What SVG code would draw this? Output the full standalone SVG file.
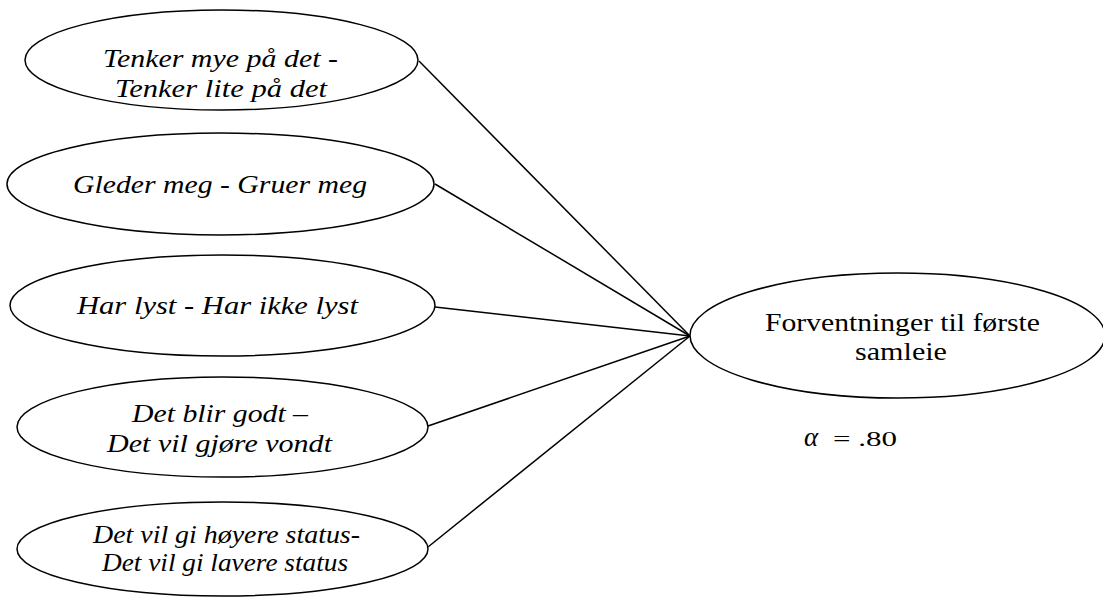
<svg xmlns="http://www.w3.org/2000/svg" width="1103" height="597" viewBox="0 0 1103 597" font-family="'Liberation Serif', 'Times New Roman', serif">
<style>
.node ellipse{fill:#fff;stroke:#000;stroke-width:1.5}
.conn line{stroke:#000;stroke-width:1.5}
text{font-size:26px;fill:#000}
.it{font-style:italic}
</style>
<rect width="1103" height="597" fill="#fff"/>
<g id="connectors" class="conn">
<line x1="419" y1="61" x2="690" y2="336"/>
<line x1="435" y1="184" x2="690" y2="336"/>
<line x1="435" y1="307" x2="690" y2="336"/>
<line x1="428" y1="426" x2="690" y2="336"/>
<line x1="428" y1="547" x2="690" y2="336"/>
</g>
<g id="n1" class="node">
<ellipse cx="221.5" cy="60" rx="196.5" ry="50"/>
<text class="it" x="103" y="67" textLength="235" lengthAdjust="spacingAndGlyphs">Tenker mye på det -</text>
<text class="it" x="115" y="97" textLength="212" lengthAdjust="spacingAndGlyphs">Tenker lite på det</text>
</g>
<g id="n2" class="node">
<ellipse cx="220.5" cy="184" rx="213.5" ry="51"/>
<text class="it" x="73" y="193" textLength="294" lengthAdjust="spacingAndGlyphs">Gleder meg - Gruer meg</text>
</g>
<g id="n3" class="node">
<ellipse cx="222.5" cy="305.5" rx="212.5" ry="50.5"/>
<text class="it" x="77" y="314" textLength="281" lengthAdjust="spacingAndGlyphs">Har lyst - Har ikke lyst</text>
</g>
<g id="n4" class="node">
<ellipse cx="222.5" cy="427" rx="205.5" ry="50"/>
<text class="it" x="132" y="422" textLength="176" lengthAdjust="spacingAndGlyphs">Det blir godt –</text>
<text class="it" x="107" y="452" textLength="225" lengthAdjust="spacingAndGlyphs">Det vil gjøre vondt</text>
</g>
<g id="n5" class="node">
<ellipse cx="222.5" cy="549" rx="205.5" ry="47"/>
<text class="it" x="93" y="543" textLength="267" lengthAdjust="spacingAndGlyphs">Det vil gi høyere status-</text>
<text class="it" x="102" y="571" textLength="246" lengthAdjust="spacingAndGlyphs">Det vil gi lavere status</text>
</g>
<g id="target" class="node">
<ellipse cx="897.5" cy="335.5" rx="207.5" ry="62.5"/>
<text x="765" y="331" textLength="275" lengthAdjust="spacingAndGlyphs">Forventninger til første</text>
<text x="855" y="360" textLength="92" lengthAdjust="spacingAndGlyphs">samleie</text>
</g>
<g id="alpha">
<text class="it" x="804" y="446" style="font-size:27px">α</text>
<text x="833" y="446" textLength="64" lengthAdjust="spacingAndGlyphs" style="font-size:22px">= .80</text>
</g>
</svg>
